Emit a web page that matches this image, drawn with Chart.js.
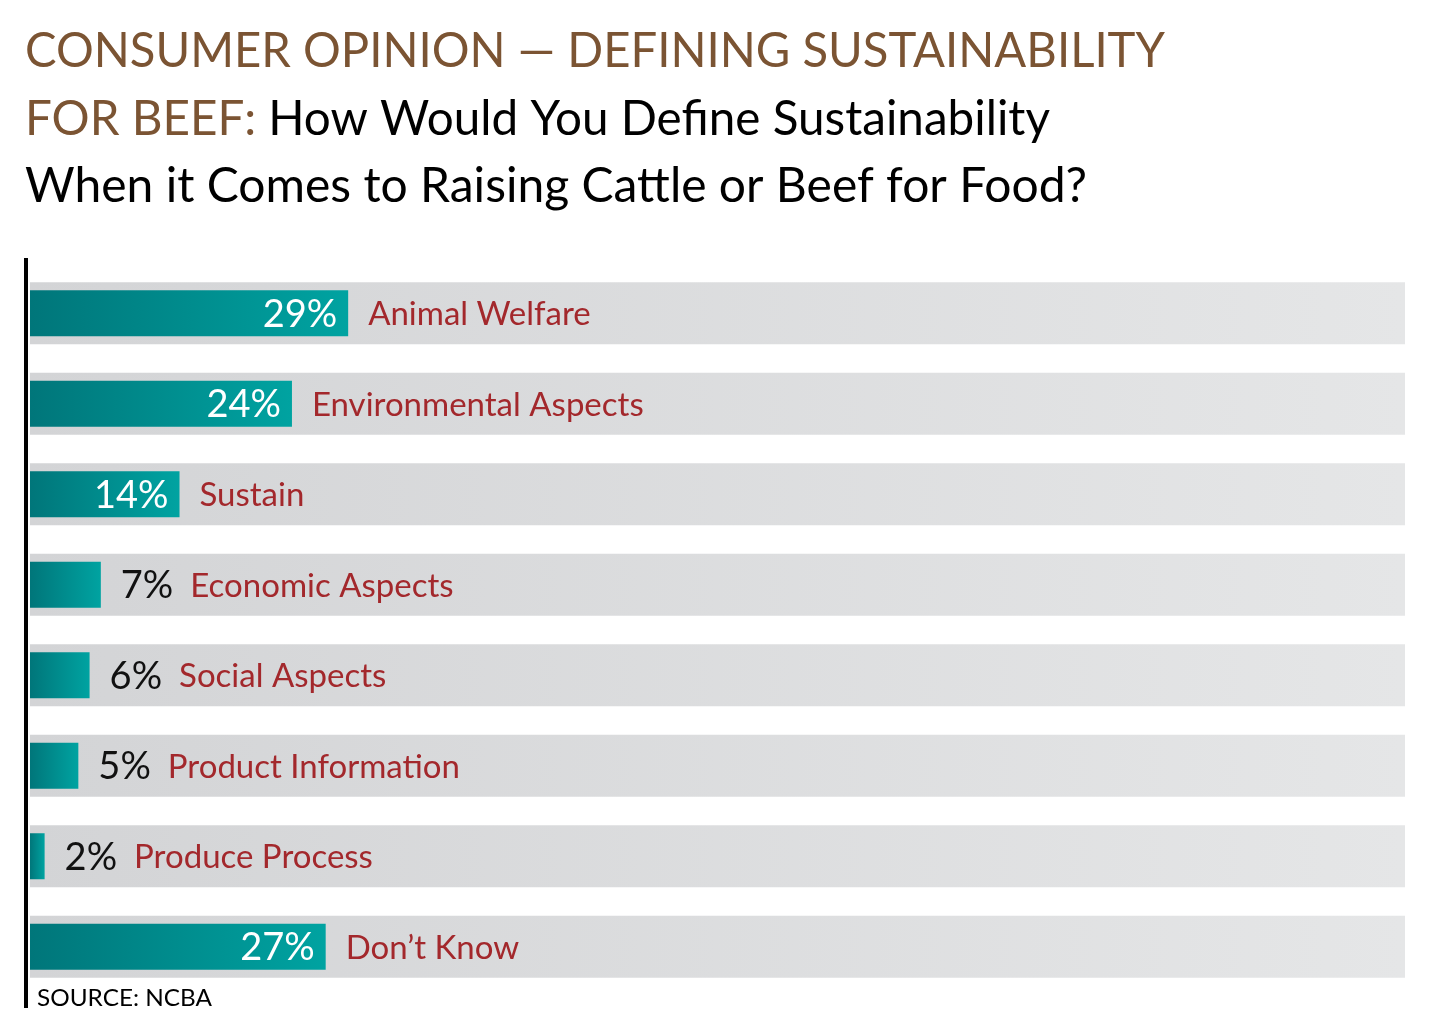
<!DOCTYPE html>
<html>
<head>
<meta charset="utf-8">
<script src="https://cdn.jsdelivr.net/npm/chart.js@4.4.1/dist/chart.umd.min.js"></script>
<style>
  html, body { margin: 0; padding: 0; background: #fff; }
  #wrap { position: relative; width: 1440px; height: 1036px; }
</style>
</head>
<body>
<div id="wrap"><canvas id="myChart"></canvas></div>
<script>
// chart data
const categories = ['Animal Welfare', 'Environmental Aspects', 'Sustain', 'Economic Aspects',
    'Social Aspects', 'Product Information', 'Produce Process', 'Don\u2019t Know'];
const percentValues = [29, 24, 14, 7, 6, 5, 2, 27];
const scaleMin = 0.7;
const scaleMax = 123;
const trackValues = categories.map(() => scaleMax);

const titleLine1 = 'CONSUMER OPINION \u2014 DEFINING SUSTAINABILITY';
const titleLine2a = 'FOR BEEF: ';
const titleLine2b = 'How Would You Define Sustainability';
const titleLine3 = 'When it Comes to Raising Cattle or Beef for Food?';
const sourceText = 'SOURCE: NCBA';

const FONT = 'Lato, "Open Sans", sans-serif';
const BROWN = '#7b5433';
const RED = '#a3282c';

// draws a string squeezed to a given width (the original uses a condensed face)
function fitText(ctx, parts, x, y, width) {
    let natural = 0;
    parts.forEach(p => { natural += ctx.measureText(p.text).width; });
    const sx = width / natural;
    ctx.save();
    ctx.translate(x, y);
    ctx.scale(sx, 1);
    let cx = 0;
    parts.forEach(p => {
        ctx.fillStyle = p.color;
        ctx.fillText(p.text, cx, 0);
        cx += ctx.measureText(p.text).width;
    });
    ctx.restore();
}

const decorPlugin = {
    id: 'decor',
    afterDatasetsDraw(chart) {
        const ctx = chart.ctx;
        const area = chart.chartArea;
        ctx.save();

        // vertical axis line
        ctx.strokeStyle = '#000';
        ctx.lineWidth = 4;
        ctx.beginPath();
        ctx.moveTo(area.left - 4, area.top - 10);
        ctx.lineTo(area.left - 4, area.bottom + 16);
        ctx.stroke();

        // value and category labels
        const meta = chart.getDatasetMeta(1);
        meta.data.forEach((bar, i) => {
            const v = percentValues[i];
            const pct = v + '%';
            ctx.font = '38px ' + FONT;
            const pw = ctx.measureText(pct).width;
            let labelX;
            if (v >= 10) {
                ctx.fillStyle = '#fff';
                ctx.textAlign = 'right';
                ctx.fillText(pct, bar.x - 11, bar.y + 13.5);
                labelX = bar.x + 20;
            } else {
                ctx.fillStyle = '#111';
                ctx.textAlign = 'left';
                ctx.fillText(pct, bar.x + 20, bar.y + 13.5);
                labelX = bar.x + 20 + pw + 17;
            }
            ctx.textAlign = 'left';
            ctx.fillStyle = RED;
            ctx.font = '33px ' + FONT;
            ctx.fillText(categories[i], labelX, bar.y + 12);
        });

        // titles
        ctx.textAlign = 'left';
        ctx.textBaseline = 'alphabetic';
        ctx.font = '49px ' + FONT;
        fitText(ctx, [{ text: titleLine1, color: BROWN }], 25, 67, 1140);
        fitText(ctx, [{ text: titleLine2a, color: BROWN }, { text: titleLine2b, color: '#000' }], 25, 135, 1025);
        fitText(ctx, [{ text: titleLine3, color: '#000' }], 25, 202, 1062);

        ctx.font = '23px ' + FONT;
        fitText(ctx, [{ text: sourceText, color: '#000' }], 37, 1006, 175);
        ctx.restore();
    }
};

const data = {
    labels: categories,
    datasets: [{
        label: 'track',
        data: trackValues,
        order: 2,
        backgroundColor: (c) => {
            const area = c.chart.chartArea;
            if (!area) return '#dcdddf';
            const g = c.chart.ctx.createLinearGradient(area.left, 0, area.right, 0);
            g.addColorStop(0, '#d3d4d6');
            g.addColorStop(1, '#e5e6e7');
            return g;
        },
        barPercentage: 0.685,
        categoryPercentage: 1
    }, {
        label: 'Share of respondents',
        data: percentValues,
        order: 1,
        backgroundColor: (c) => {
            const x = c.chart.scales.x;
            if (!x || c.raw === undefined) return '#008c8a';
            const x0 = x.getPixelForValue(scaleMin);
            const x1 = x.getPixelForValue(c.raw);
            if (!isFinite(x0) || !isFinite(x1)) return '#008c8a';
            const g = c.chart.ctx.createLinearGradient(x0, 0, x1, 0);
            g.addColorStop(0, '#00767a');
            g.addColorStop(1, '#00a3a1');
            return g;
        },
        barPercentage: 0.51,
        categoryPercentage: 1
    }]
};

const config = {
    type: 'bar',
    data,
    options: {
        indexAxis: 'y',
        responsive: true,
        maintainAspectRatio: false,
        animation: false,
        grouped: false,
        layout: {
            padding: { left: 30, right: 35, top: 268, bottom: 44 }
        },
        scales: {
            x: { display: false, min: scaleMin, max: scaleMax },
            y: { display: false }
        },
        plugins: {
            legend: { display: false },
            tooltip: { enabled: false }
        }
    },
    plugins: [decorPlugin]
};

const myChart = new Chart(document.getElementById('myChart'), config);
</script>
</body>
</html>
